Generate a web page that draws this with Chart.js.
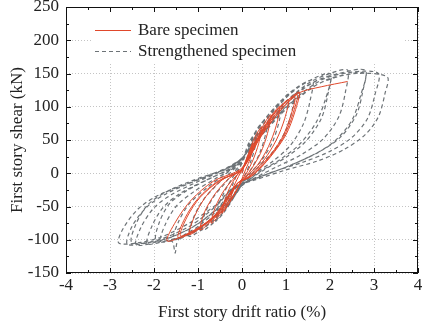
<!DOCTYPE html>
<html>
<head>
<meta charset="utf-8">
<script src="https://cdn.jsdelivr.net/npm/chart.js@4.4.1/dist/chart.umd.min.js"></script>
<style>
  html, body { margin: 0; padding: 0; background: #fff; }
  #chart { display: block; }
</style>
</head>
<body>
<canvas id="chart" width="422" height="328"></canvas>
<script>
// drift ratio (%) / shear (kN) pairs
const bareSpecimen = [
  [0, 0],
  [0.1, 20], [0.25, 45], [0.2, 25], [0.08, 5], [0, -8], [-0.12, -25], [-0.25, -40], [-0.2, -22], [-0.08, -5], [0, 5],
  [0.15, 30], [0.3, 55], [0.45, 70], [0.38, 45], [0.25, 20], [0.1, 0], [0, -10], [-0.2, -35], [-0.45, -60], [-0.38, -38], [-0.25, -18], [-0.1, -2], [0, 5],
  [0.2, 35], [0.45, 68], [0.65, 88], [0.58, 60], [0.42, 30], [0.2, 5], [0, -12], [-0.3, -45], [-0.55, -66], [-0.7, -75], [-0.6, -50], [-0.4, -25], [-0.15, -5], [0, 5],
  [0.25, 40], [0.6, 80], [0.85, 100], [0.78, 72], [0.6, 40], [0.35, 12], [0.05, -8], [-0.1, -15], [-0.4, -52], [-0.75, -75], [-0.95, -85], [-0.85, -58], [-0.6, -30], [-0.3, -8], [0, 6],
  [0.3, 45], [0.7, 88], [1.05, 110], [0.97, 82], [0.78, 50], [0.5, 20], [0.15, -5], [-0.1, -15], [-0.5, -58], [-0.9, -80], [-1.2, -92], [-1.08, -65], [-0.82, -35], [-0.45, -10], [0, 6],
  [0.35, 50], [0.8, 95], [1.25, 118], [1.15, 88], [0.95, 55], [0.6, 22], [0.2, -5], [-0.1, -15], [-0.55, -60], [-1.0, -84], [-1.45, -97], [-1.3, -68], [-1.0, -38], [-0.55, -12], [0, 6],
  [0.38, 50], [0.85, 93], [1.2, 114], [1.1, 85], [0.9, 52], [0.55, 20], [0.15, -6], [-0.12, -16], [-0.6, -62], [-1.05, -85], [-1.4, -94], [-1.25, -66], [-0.95, -36], [-0.5, -11], [0, 6],
  [0.4, 55], [0.9, 100], [1.3, 122], [1.2, 92], [1.0, 58], [0.65, 25], [0.25, -3], [-0.1, -15], [-0.6, -62], [-1.1, -86], [-1.7, -102], [-1.5, -72], [-1.15, -40], [-0.65, -12], [0, 8],
  [0.45, 58], [0.95, 100], [1.3, 121], [1.8, 130], [2.4, 138]
];

const strengthenedSpecimen = [
  [0, 0],
  [0.1, 20], [0.2, 40], [0.35, 60], [0.3, 40], [0.2, 18], [0.05, -5], [-0.1, -20], [-0.22, -38], [-0.35, -52], [-0.3, -35], [-0.2, -15], [-0.05, 8],
  [0.1, 30], [0.3, 60], [0.6, 85], [0.55, 62], [0.4, 30], [0.15, 0], [0, -15], [-0.2, -38], [-0.4, -58], [-0.6, -72], [-0.55, -52], [-0.4, -28], [-0.2, -5], [0, 15],
  [0.15, 40], [0.4, 72], [0.9, 105], [0.85, 80], [0.7, 48], [0.45, 20], [0.15, -3], [0, -18], [-0.25, -42], [-0.55, -68], [-0.9, -86], [-0.85, -62], [-0.65, -36], [-0.35, -12], [0, 18],
  [0.15, 45], [0.5, 80], [0.9, 108], [1.2, 125], [1.15, 98], [1.0, 65], [0.7, 32], [0.35, 8], [0, -18], [-0.3, -45], [-0.7, -74], [-1.2, -95], [-1.12, -70], [-0.9, -42], [-0.55, -16], [-0.2, 5], [0, 20],
  [0.2, 48], [0.6, 88], [1.1, 122], [1.6, 140], [1.55, 110], [1.4, 75], [1.1, 42], [0.7, 18], [0.3, 0], [-0.05, -20], [-0.35, -48], [-0.8, -78], [-1.55, -100], [-1.45, -74], [-1.2, -46], [-0.8, -22], [-0.35, 0], [0, 20],
  [0.25, 50], [0.7, 92], [1.3, 130], [2.0, 150], [1.95, 118], [1.8, 82], [1.45, 48], [1.0, 24], [0.5, 5], [0, -18], [-0.4, -50], [-0.9, -80], [-1.4, -96], [-1.85, -103], [-1.75, -78], [-1.5, -50], [-1.1, -28], [-0.6, -8], [-0.2, 8], [0, 22],
  [0.3, 48], [0.8, 90], [1.4, 128], [2.0, 145], [1.9, 112], [1.68, 76], [1.3, 43], [0.85, 20], [0.4, 2], [0, -19], [-0.45, -52], [-0.95, -82], [-1.45, -97], [-1.95, -101], [-1.88, -74], [-1.65, -46], [-1.25, -26], [-0.7, -7], [-0.2, 9], [0, 22],
  [0.3, 52], [0.8, 95], [1.5, 135], [2.0, 150], [2.4, 155], [2.35, 122], [2.2, 85], [1.85, 52], [1.35, 28], [0.8, 10], [0.2, -10], [-0.1, -20], [-0.5, -52], [-1.0, -80], [-1.45, -100], [-1.52, -120], [-1.6, -102], [-2.15, -106], [-2.05, -80], [-1.8, -52], [-1.4, -30], [-0.8, -10], [-0.3, 6], [0, 22],
  [0.3, 50], [0.9, 98], [1.6, 136], [2.2, 150], [2.8, 155], [2.75, 125], [2.6, 88], [2.25, 55], [1.75, 32], [1.1, 12], [0.4, -6], [-0.15, -21], [-0.5, -50], [-1.1, -80], [-1.7, -98], [-2.4, -108], [-2.3, -82], [-2.0, -52], [-1.6, -32], [-0.95, -11], [-0.35, 7], [0, 23],
  [0.35, 50], [1.0, 96], [1.7, 133], [2.3, 147], [2.8, 150], [2.7, 118], [2.5, 80], [2.1, 48], [1.6, 27], [0.95, 8], [0.3, -8], [-0.15, -21], [-0.55, -52], [-1.15, -82], [-1.8, -100], [-2.5, -104], [-2.42, -78], [-2.15, -48], [-1.75, -29], [-1.05, -9], [-0.35, 7], [0, 23],
  [0.35, 52], [1.0, 100], [1.8, 140], [2.5, 152], [3.1, 150], [3.02, 118], [2.85, 82], [2.5, 54], [2.0, 33], [1.4, 17], [0.7, 2], [0, -16], [-0.2, -22], [-0.6, -50], [-1.2, -80], [-1.9, -100], [-2.6, -107], [-2.5, -80], [-2.15, -50], [-1.7, -30], [-1.0, -10], [-0.3, 8], [0, 23],
  [0.4, 55], [1.1, 105], [1.9, 140], [2.6, 150], [3.3, 145], [3.25, 120], [3.1, 85], [2.8, 58], [2.3, 35], [1.7, 18], [1.0, 5], [0.3, -10], [-0.2, -22], [-0.6, -48], [-1.2, -75], [-1.8, -95], [-2.3, -104], [-2.8, -105], [-2.7, -83], [-2.35, -53], [-1.9, -33], [-1.1, -12], [-0.35, 8], [0, 22]
];

const seriesNames = ['Bare specimen', 'Strengthened specimen'];
const driftRange = [-4, 4];
const shearRange = [-150, 250];

const serif = '"Liberation Serif", "Times New Roman", serif';
const RED = '#e0482b';
const GREY = '#6d7377';

function toPoints(list) {
  return list.map(p => ({ x: p[0], y: p[1] }));
}

// frame, inward ticks on all four sides, legend inside the plot
const frameAndLegend = {
  id: 'frameAndLegend',
  beforeDatasetsDraw(chart) {
    const ctx = chart.ctx;
    ctx.save();
    ctx.fillStyle = '#fff';
    ctx.fillRect(93, 8, 312, 54);
    ctx.restore();
  },
  afterDraw(chart) {
    const { ctx, chartArea: a, scales } = chart;
    const x = scales.x, y = scales.y;
    ctx.save();
    ctx.strokeStyle = '#111';
    ctx.lineWidth = 1;
    ctx.strokeRect(a.left + 0.5, a.top + 0.5, a.right - a.left - 1, a.bottom - a.top - 1);

    ctx.beginPath();
    for (let v = driftRange[0]; v <= driftRange[1]; v += 0.5) {
      const px = Math.round(x.getPixelForValue(v)) + 0.5;
      const len = v % 1 === 0 ? 5 : 3;
      ctx.moveTo(px, a.bottom); ctx.lineTo(px, a.bottom - len);
      ctx.moveTo(px, a.top); ctx.lineTo(px, a.top + len);
    }
    for (let v = shearRange[0]; v <= shearRange[1]; v += 25) {
      const py = Math.round(y.getPixelForValue(v)) + 0.5;
      const len = v % 50 === 0 ? 5 : 3;
      ctx.moveTo(a.left, py); ctx.lineTo(a.left + len, py);
      ctx.moveTo(a.right, py); ctx.lineTo(a.right - len, py);
    }
    ctx.stroke();

    // legend
    ctx.font = '17px ' + serif;
    ctx.fillStyle = '#222';
    ctx.textBaseline = 'middle';
    ctx.lineWidth = 1.2;
    ctx.strokeStyle = RED;
    ctx.beginPath(); ctx.moveTo(95, 30.5); ctx.lineTo(131, 30.5); ctx.stroke();
    ctx.fillText(seriesNames[0], 138, 31);
    ctx.strokeStyle = GREY;
    ctx.setLineDash([4, 3]);
    ctx.beginPath(); ctx.moveTo(95, 51.5); ctx.lineTo(131, 51.5); ctx.stroke();
    ctx.setLineDash([]);
    ctx.fillText(seriesNames[1], 138, 52);
    ctx.restore();
  }
};

new Chart(document.getElementById('chart'), {
  type: 'scatter',
  data: {
    datasets: [
      {
        label: seriesNames[0],
        data: toPoints(bareSpecimen),
        showLine: true,
        borderColor: RED,
        borderWidth: 1,
        pointRadius: 0,
        tension: 0.3,
        order: 0
      },
      {
        label: seriesNames[1],
        data: toPoints(strengthenedSpecimen),
        showLine: true,
        borderColor: GREY,
        borderWidth: 1.2,
        borderDash: [4, 3],
        pointRadius: 0,
        tension: 0.3,
        order: 1
      }
    ]
  },
  options: {
    responsive: false,
    animation: false,
    devicePixelRatio: 1,
    layout: { padding: { top: 7, right: 4, left: 0, bottom: 0 } },
    plugins: {
      legend: { display: false },
      tooltip: { enabled: false }
    },
    scales: {
      x: {
        type: 'linear',
        min: driftRange[0],
        max: driftRange[1],
        ticks: { stepSize: 1, padding: 2, color: '#222', font: { family: serif, size: 17 } },
        grid: { color: '#c4c4c4', lineWidth: 1, drawTicks: false },
        border: { display: false, dash: [1, 2] },
        title: { display: true, text: 'First story drift ratio (%)', color: '#222', font: { family: serif, size: 17 }, padding: { top: 0, bottom: 5 } },
        afterFit: s => { s.height = 55; s.paddingLeft = 0; s.paddingRight = 0; }
      },
      y: {
        type: 'linear',
        min: shearRange[0],
        max: shearRange[1],
        ticks: { stepSize: 50, padding: 7, color: '#222', font: { family: serif, size: 17 } },
        grid: { color: '#c4c4c4', lineWidth: 1, drawTicks: false },
        border: { display: false, dash: [1, 2] },
        title: { display: true, text: 'First story shear (kN)', color: '#222', font: { family: serif, size: 17 }, padding: { top: 7, bottom: 0 } },
        afterFit: s => { s.width = 66; s.paddingTop = 0; s.paddingBottom = 0; }
      }
    }
  },
  plugins: [frameAndLegend]
});
</script>
</body>
</html>
